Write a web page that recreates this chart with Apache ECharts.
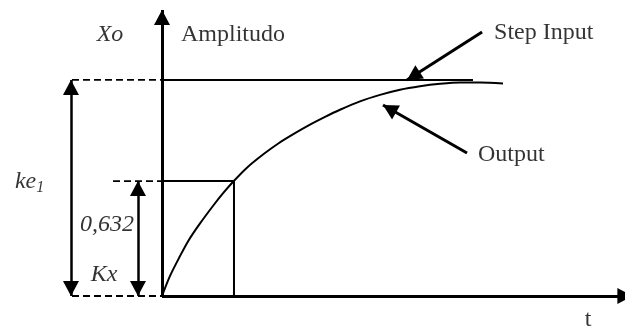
<!DOCTYPE html>
<html>
<head>
<meta charset="utf-8">
<script src="https://cdn.jsdelivr.net/npm/echarts@6/dist/echarts.min.js"></script>
<style>
  html, body { margin: 0; padding: 0; background: #fff; }
  #main { width: 625px; height: 328px; }
</style>
</head>
<body>
<div id="main"></div>
<script>
// time in units of tau, amplitude as a fraction of the step
const outputT = [0, 0.110, 0.247, 0.360, 0.521, 0.703, 0.840, 0.977, 1.160, 1.388, 1.593, 1.799, 2.027, 2.233, 2.438, 2.712, 2.986, 3.260, 3.534, 3.808, 4.082, 4.356, 4.671];
const outputY = [0, 0.093, 0.185, 0.255, 0.336, 0.419, 0.477, 0.530, 0.593, 0.656, 0.706, 0.749, 0.793, 0.829, 0.862, 0.901, 0.931, 0.955, 0.971, 0.982, 0.988, 0.988, 0.983];

const stepT = [0, 4.26];
const stepY = [1, 1];

// the 0,632 point as drawn
const tauT = 0.986;
const tauY = 0.532;

// dashed guide lines to the left of the amplitude axis
const dashStartT = [-1.233, -1.233, -0.671];
const dashY = [1, 0, tauY];

// arrows: axes, ke1, 0,632, and the two pointers
const arrowFrom = [[0, 0], [0, 0], [-1.247, 0], [-0.329, 0], [4.384, 1.222], [4.178, 0.662]];
const arrowTo = [[6.34, 0], [0, 1.324], [-1.247, 1], [-0.329, tauY], [3.356, 1.0], [3.027, 0.884]];
const arrowBoth = [false, false, true, true, false, false];
const arrowWidth = [3, 3, 2.5, 2.5, 3, 3];

const labelText = ['Xo', 'Amplitudo', 'Step Input', 'Output', '{a|ke}{b|1}', '0,632', 'Kx', 't'];
const labelAt = [[-0.712, 1.208], [0.26, 1.208], [4.548, 1.218], [4.329, 0.653], [-2.014, 0.528], [-0.753, 0.329], [-0.795, 0.097], [5.836, -0.111]];
const labelAlign = ['center', 'left', 'left', 'left', 'left', 'center', 'center', 'center'];
const labelItalic = [true, false, false, false, true, true, true, false];

const serif = 'Liberation Serif';
const head = [16, 15];

const chart = echarts.init(document.getElementById('main'));

// x axis arrow runs past the right edge, so its tip is not pulled back
const arrowLines = arrowFrom.map((p, i) => [
  { coord: p, symbol: arrowBoth[i] ? 'triangle' : 'none', lineStyle: { width: arrowWidth[i], color: '#000', type: 'solid' } },
  { coord: arrowTo[i], symbol: 'triangle', symbolOffset: i === 0 ? [0, 0] : [0, head[1] / 2] }
]);

const option = {
  animation: false,
  grid: { left: 0, right: 0, top: 0, bottom: 0 },
  xAxis: { type: 'value', min: -2.219, max: 6.342, show: false, splitLine: { show: false } },
  yAxis: { type: 'value', min: -0.148, max: 1.370, show: false, splitLine: { show: false } },
  series: [
    {
      name: 'Step Input',
      type: 'line',
      data: stepT.map((t, i) => [t, stepY[i]]),
      symbol: 'none',
      lineStyle: { color: '#000', width: 2 },
      markLine: {
        silent: true,
        symbolSize: head,
        symbolOffset: [[0, head[1] / 2], [0, head[1] / 2]],
        label: { show: false },
        itemStyle: { color: '#000' },
        data: arrowLines
      }
    },
    {
      name: 'Output',
      type: 'line',
      data: outputT.map((t, i) => [t, outputY[i]]),
      smooth: 0.3,
      symbol: 'none',
      lineStyle: { color: '#000', width: 2 }
    },
    {
      type: 'line',
      data: [[0, tauY], [tauT, tauY], [tauT, 0]],
      symbol: 'none',
      lineStyle: { color: '#000', width: 2 }
    },
    ...dashStartT.map((t, i) => ({
      type: 'line',
      data: [[t, dashY[i]], [0, dashY[i]]],
      symbol: 'none',
      lineStyle: { color: '#000', width: 1.8, type: [7, 4] }
    })),
    {
      type: 'scatter',
      symbolSize: 0,
      silent: true,
      data: labelText.map((txt, i) => ({
        value: labelAt[i],
        label: {
          show: true,
          position: [0, 0],
          formatter: txt,
          align: labelAlign[i],
          verticalAlign: 'middle',
          fontFamily: serif,
          fontSize: 24,
          fontStyle: labelItalic[i] ? 'italic' : 'normal',
          color: '#000',
          rich: {
            a: { fontFamily: serif, fontSize: 24, fontStyle: 'italic', color: '#000', lineHeight: 28 },
            b: { fontFamily: serif, fontSize: 16, fontStyle: 'italic', color: '#000', lineHeight: 15, verticalAlign: 'bottom' }
          }
        }
      }))
    }
  ]
};

chart.setOption(option);
</script>
</body>
</html>
